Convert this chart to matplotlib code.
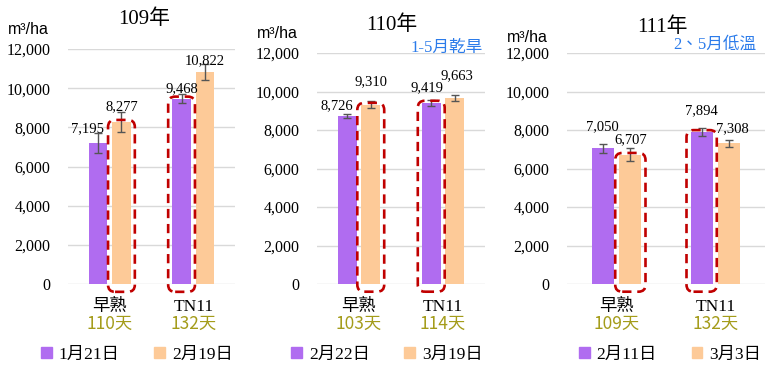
import matplotlib.pyplot as plt
from matplotlib.patches import FancyBboxPatch, Patch

# 資料
years = ['109年', '110年', '111年']
cultivars = ['早熟', 'TN11']
days = [['110天', '132天'], ['103天', '114天'], ['109天', '132天']]
dates = [['1月21日', '2月19日'], ['2月22日', '3月19日'], ['2月11日', '3月3日']]
vals_a = [[7195, 9468], [8726, 9419], [7050, 7894]]
vals_b = [[8277, 10822], [9310, 9663], [6707, 7308]]
err_a = [[530, 230], [85, 150], [220, 200]]
err_b = [[500, 410], [190, 160], [340, 195]]
notes = ['', '1-5月乾旱', '2、5月低溫']

PURPLE = '#b06cf0'
PEACH = '#fdca98'
RED = '#c00000'
OLIVE = '#a49c1a'
BLUE = '#2b7bea'
SERIF = ['Liberation Serif', 'Noto Sans CJK TC']
CJK = ['Noto Sans CJK TC', 'DejaVu Sans']

W, H = 768, 373
fig = plt.figure(figsize=(W / 100, H / 100), dpi=100)

# 各子圖位置 (像素)
boxes_px = [(68, 235, 49, 284), (317, 485, 53, 284), (567, 765, 53, 284)]
title_px = [(144, 19), (392, 25), (662, 27)]
unit_px = [(8, 29), (257, 33), (507, 37)]
note_px = [None, (483, 48), (756, 45)]
legend_px = [137, 387, 670]
# 數值標籤偏移 (像素)
lab_a = [[(-11, 14), (0, 10)], [(-10, 10), (-4, 15)], [(0, 22), (0, 21)]]
lab_b = [[(0, 15), (0, 11)], [(0, 23), (2, 22)], [(0, 15), (3, 15)]]

off = 0.14
bw = 0.225
for k in range(3):
    x0, x1, yt, yb = boxes_px[k]
    ax = fig.add_axes([x0 / W, 1 - yb / H, (x1 - x0) / W, (yb - yt) / H])
    xs = [0, 1]
    ax.bar([x - off for x in xs], vals_a[k], bw, color=PURPLE, zorder=2,
           yerr=err_a[k], error_kw=dict(ecolor='#555555', elinewidth=1, capsize=3))
    ax.bar([x + off for x in xs], vals_b[k], bw, color=PEACH, zorder=2,
           yerr=err_b[k], error_kw=dict(ecolor='#555555', elinewidth=1, capsize=3))
    ax.set_xlim(-0.5, 1.5)
    ax.set_ylim(0, 12000)
    ax.set_yticks(range(0, 12001, 2000))
    ax.set_yticklabels([f'{v:,}' for v in range(0, 12001, 2000)],
                       family='Liberation Serif', fontsize=11.5)
    ax.tick_params(axis='y', length=0, pad=12.5)
    ax.set_xticks([])
    ax.grid(axis='y', color='#d9d9d9', lw=1, zorder=0)
    for s in ax.spines.values():
        s.set_visible(False)

    for i in xs:
        ax.annotate(f'{vals_a[k][i]:,}', (i - off, vals_a[k][i]), xytext=lab_a[k][i],
                    textcoords='offset pixels', ha='center', va='center',
                    family='Liberation Serif', fontsize=10.5)
        ax.annotate(f'{vals_b[k][i]:,}', (i + off, vals_b[k][i]), xytext=lab_b[k][i],
                    textcoords='offset pixels', ha='center', va='center',
                    family='Liberation Serif', fontsize=10.5)
        ax.annotate(cultivars[i], (i, 0), xycoords=('data', 'axes fraction'),
                    xytext=(0, -23), textcoords='offset pixels', ha='center',
                    va='center', family=SERIF, fontsize=12.5)
        ax.annotate(days[k][i], (i, 0), xycoords=('data', 'axes fraction'),
                    xytext=(0, -40), textcoords='offset pixels', ha='center',
                    va='center', family=CJK, fontsize=12.5, color=OLIVE)

    # 紅色虛線框: 早熟第二期 與 TN11 第一期
    aw, ah = x1 - x0, yb - yt
    asp = (12000 / ah) / (2 / aw)
    r = 7 * 2 / aw
    pad = 4 * 2 / aw
    for xc, top in [(0 + off, vals_b[k][0]), (1 - off, vals_a[k][1])]:
        y0 = -400
        p = FancyBboxPatch((xc - bw / 2 - pad, y0), bw + 2 * pad, top + 100 - y0,
                           boxstyle=f'round,pad=0,rounding_size={r}',
                           mutation_aspect=asp, fill=False, ec=RED, lw=1.9,
                           ls=(0, (3.5, 2.2)), clip_on=False, zorder=3)
        ax.add_patch(p)

    tx, ty = title_px[k]
    fig.text(tx / W, 1 - ty / H, years[k], ha='center', va='center',
             family=SERIF, fontsize=15)
    ux, uy = unit_px[k]
    fig.text(ux / W, 1 - uy / H, 'm³/ha', ha='left', va='center',
             family='Liberation Sans', fontsize=11.5)
    if note_px[k]:
        nx, ny = note_px[k]
        fig.text(nx / W, 1 - ny / H, notes[k], ha='right', va='center',
                 family=SERIF, fontsize=12, color=BLUE)

    handles = [Patch(color=PURPLE, label=dates[k][0]), Patch(color=PEACH, label=dates[k][1])]
    fig.legend(handles=handles, loc='center', ncol=2, frameon=False,
               bbox_to_anchor=(legend_px[k] / W, 1 - 355 / H),
               prop=dict(family=SERIF, size=12.5), handlelength=0.6,
               handleheight=0.6, handletextpad=0.4, columnspacing=2.0)

fig.savefig('out.png', dpi=100)
